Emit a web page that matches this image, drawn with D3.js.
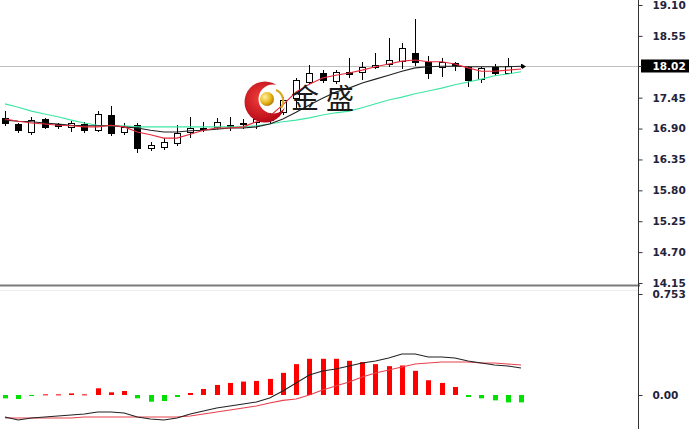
<!DOCTYPE html>
<html><head><meta charset="utf-8">
<script src="https://cdn.jsdelivr.net/npm/d3@7/dist/d3.min.js"></script>
<style>body{margin:0;background:#fff;overflow:hidden}svg{display:block}</style>
</head><body>
<svg id="c" width="689" height="429"></svg>
<script>
// ---- data ----
const open  = [17.09,16.98,16.84,17.07,16.98,16.92,16.98,16.88,17.15,16.84,16.96,16.55,16.58,16.64,16.84,16.90,16.93,16.94,16.98,17.01,17.05,17.20,17.45,17.73,17.89,17.74,17.91,17.90,17.99,18.05,18.10,18.25,18.09,17.99,18.07,18.00,17.78,18.00,17.89,18.02];
const high  = [17.22,17.00,17.11,17.09,17.00,17.04,17.02,17.21,17.30,17.00,17.00,16.66,16.73,16.96,17.11,17.02,17.09,17.11,17.07,17.11,17.18,17.46,17.80,18.03,17.94,17.95,18.15,18.09,18.25,18.51,18.42,18.85,18.19,18.16,18.09,18.01,18.00,18.05,18.16,18.05];
const low   = [16.97,16.84,16.80,16.91,16.91,16.85,16.83,16.86,16.79,16.80,16.48,16.52,16.54,16.61,16.75,16.86,16.91,16.87,16.91,16.91,17.00,17.16,17.28,17.72,17.73,17.72,17.82,17.78,17.98,18.02,17.98,18.04,17.80,17.83,17.94,17.66,17.73,17.85,17.89,18.00];
const close = [17.00,16.87,17.05,16.93,16.95,17.00,16.88,17.16,16.82,16.93,16.55,16.60,16.66,16.82,16.91,16.91,17.02,16.96,17.00,17.07,17.12,17.41,17.76,17.89,17.76,17.91,17.87,17.99,18.03,18.12,18.33,18.09,17.89,18.08,18.04,17.76,17.98,17.89,18.01,18.02];
const maRed   = [17.07,17.03,17.00,16.98,16.96,16.95,16.93,16.93,16.96,16.93,16.84,16.79,16.73,16.73,16.80,16.87,16.91,16.91,16.93,17.02,17.12,17.32,17.55,17.69,17.80,17.85,17.89,17.94,18.00,18.05,18.10,18.12,18.09,18.09,18.05,17.98,17.92,17.92,17.94,17.96];
const maBlack = [17.05,17.03,17.02,17.00,16.98,16.96,16.95,16.95,16.95,16.93,16.91,16.87,16.84,16.84,16.86,16.87,16.89,16.91,16.91,16.93,16.98,17.07,17.19,17.32,17.44,17.55,17.62,17.71,17.78,17.85,17.92,17.98,18.00,18.01,18.01,18.00,18.00,18.00,18.00,18.01];
const maGreen = [17.34,17.28,17.21,17.16,17.11,17.05,17.00,16.96,16.95,16.95,16.93,16.93,16.93,16.93,16.93,16.93,16.93,16.93,16.93,16.95,16.98,17.02,17.05,17.09,17.14,17.18,17.21,17.27,17.34,17.41,17.46,17.52,17.57,17.62,17.68,17.73,17.78,17.84,17.87,17.91];
const histo   = [-0.025,-0.03,-0.005,0.005,0.005,0.012,0.005,0.05,0.02,0.03,-0.025,-0.05,-0.045,-0.015,0.015,0.045,0.075,0.09,0.10,0.105,0.12,0.165,0.23,0.27,0.27,0.27,0.255,0.245,0.23,0.215,0.22,0.18,0.11,0.09,0.06,-0.015,-0.025,-0.04,-0.055,-0.055];
const macdLine   = [-0.164,-0.186,-0.172,-0.164,-0.157,-0.149,-0.142,-0.127,-0.127,-0.134,-0.164,-0.179,-0.186,-0.172,-0.142,-0.119,-0.097,-0.082,-0.067,-0.052,-0.022,0.030,0.090,0.149,0.179,0.194,0.216,0.239,0.254,0.276,0.306,0.306,0.283,0.283,0.276,0.254,0.239,0.224,0.216,0.201];
const signalLine = [-0.172,-0.172,-0.172,-0.172,-0.172,-0.172,-0.164,-0.164,-0.164,-0.164,-0.164,-0.164,-0.164,-0.164,-0.157,-0.142,-0.127,-0.112,-0.097,-0.082,-0.060,-0.040,-0.030,0.000,0.037,0.067,0.097,0.134,0.164,0.186,0.209,0.231,0.239,0.246,0.246,0.246,0.239,0.239,0.231,0.224];
const priceTicks = [19.10,18.55,17.45,16.90,16.35,15.80,15.25,14.70,14.15];
const lastPrice = 18.02;
const macdTicks = [0.753,0.00];
const macdTickLabels = ["0.753","0.00"];
const logoChars = ["金","盛"];

// ---- scales ----
const idx = open.map((_, i) => i);
const x  = d3.scaleLinear().domain([0, 39]).range([5, 521]);
const y  = d3.scaleLinear().domain([14.15, 19.10]).range([283, 5]);
const y2 = d3.scaleLinear().domain([0, 0.753]).range([395, 294]);
const AX = 638;

const svg = d3.select('#c');
const defs = svg.append('defs');
defs.append('clipPath').attr('id','cu').append('rect').attr('x',0).attr('y',0).attr('width',AX).attr('height',284);
defs.append('clipPath').attr('id','cl').append('rect').attr('x',0).attr('y',289).attr('width',AX).attr('height',140);

// ---- upper panel ----
const up = svg.append('g').attr('clip-path','url(#cu)');
up.append('line').attr('x1',0).attr('x2',AX).attr('y1',Math.round(y(lastPrice))+0.5).attr('y2',Math.round(y(lastPrice))+0.5)
  .attr('stroke','#c0c0c0').attr('stroke-width',1);

const cg = up.append('g');
idx.forEach(i => {
  const cx = Math.round(x(i));
  cg.append('line').attr('x1',cx+0.5).attr('x2',cx+0.5)
    .attr('y1',Math.round(y(high[i]))).attr('y2',Math.round(y(low[i]))+1)
    .attr('stroke','#000').attr('stroke-width',1);
  const t = Math.round(y(Math.max(open[i],close[i])));
  const b = Math.round(y(Math.min(open[i],close[i])));
  const bull = close[i] >= open[i];
  cg.append('rect').attr('x',cx-3+0.5).attr('y',t+0.5).attr('width',6).attr('height',Math.max(0,b-t))
    .attr('fill', bull ? '#fff' : '#000').attr('stroke','#000').attr('stroke-width',1);
});

const lineU = d3.line().x((d,i)=>x(i)).y(d=>y(d));
up.append('path').attr('d',lineU(maGreen)).attr('fill','none').attr('stroke','#3de6a2').attr('stroke-width',1.1);
up.append('path').attr('d',lineU(maBlack)).attr('fill','none').attr('stroke','#222').attr('stroke-width',1.1);
up.append('path').attr('d',lineU(maRed)).attr('fill','none').attr('stroke','#e8283a').attr('stroke-width',1.1);

// last price arrow tick
const lp = Math.round(y(lastPrice))+0.5;
up.append('path').attr('d',`M${x(39)+1},${lp-2.5}L${x(39)+5},${lp}L${x(39)+1},${lp+2.5}Z`).attr('fill','#000');

// ---- logo (watermark) ----
const logo = svg.append('g');
const rg = defs.append('radialGradient').attr('id','rg').attr('cx','40%').attr('cy','40%').attr('r','70%');
rg.append('stop').attr('offset','0%').attr('stop-color','#f0403a');
rg.append('stop').attr('offset','100%').attr('stop-color','#b00012');
const yg = defs.append('radialGradient').attr('id','yg').attr('cx','35%').attr('cy','35%').attr('r','70%');
yg.append('stop').attr('offset','0%').attr('stop-color','#fff2a0');
yg.append('stop').attr('offset','60%').attr('stop-color','#e8b820');
yg.append('stop').attr('offset','100%').attr('stop-color','#b07a00');
const mask = defs.append('mask').attr('id','cm');
mask.append('rect').attr('x',230).attr('y',70).attr('width',80).attr('height',70).attr('fill','#fff');
mask.append('circle').attr('cx',273).attr('cy',99).attr('r',14.5).attr('fill','#000');
logo.append('circle').attr('cx',265).attr('cy',102).attr('r',20.5).attr('fill','url(#rg)').attr('mask','url(#cm)');
logo.append('path').attr('d','M276,90 A12,12 0 0 1 281,108').attr('fill','none').attr('stroke','#d8a828').attr('stroke-width',2.2);
logo.append('circle').attr('cx',267).attr('cy',99).attr('r',7).attr('fill','url(#yg)');
logo.selectAll('text.lg').data(logoChars).enter().append('text').attr('class','lg')
  .attr('x',(d,i)=>291 + i*35).attr('y',109)
  .attr('font-family','"Noto Sans CJK SC","Noto Sans CJK JP",sans-serif')
  .attr('font-size',28).attr('fill','#1a1a1a').text(d=>d);

// ---- lower panel ----
const lo = svg.append('g').attr('clip-path','url(#cl)');
idx.forEach(i => {
  const cx = Math.round(x(i));
  const v = histo[i];
  const a = y2(0), b = y2(v);
  lo.append('rect').attr('x',cx-2).attr('y',Math.min(a,b)).attr('width',5).attr('height',Math.max(1,Math.abs(b-a)))
    .attr('fill', v >= 0 ? '#ff0000' : '#00e000');
});
const lineL = d3.line().x((d,i)=>x(i)).y(d=>y2(d));
lo.append('path').attr('d',lineL(signalLine)).attr('fill','none').attr('stroke','#e8404e').attr('stroke-width',1.1);
lo.append('path').attr('d',lineL(macdLine)).attr('fill','none').attr('stroke','#222').attr('stroke-width',1.1);

// ---- separators / axes ----
svg.append('line').attr('x1',0).attr('x2',AX+2).attr('y1',285.5).attr('y2',285.5).attr('stroke','#7a7a7a').attr('stroke-width',2);
svg.append('line').attr('x1',0).attr('x2',AX).attr('y1',290.5).attr('y2',290.5).attr('stroke','#ececec').attr('stroke-width',1);
svg.append('line').attr('x1',AX+0.5).attr('x2',AX+0.5).attr('y1',0).attr('y2',429).attr('stroke','#333').attr('stroke-width',1);

const font = '"DejaVu Sans",Verdana,sans-serif';
const ax1 = svg.append('g').attr('transform',`translate(${AX+0.5},0)`)
  .call(d3.axisRight(y).tickValues(priceTicks).tickSize(4).tickPadding(10).tickFormat(d3.format('.2f')));
const ax2 = svg.append('g').attr('transform',`translate(${AX+0.5},0)`)
  .call(d3.axisRight(y2).tickValues(macdTicks).tickSize(4).tickPadding(10).tickFormat((d,i)=>macdTickLabels[i]));
[ax1,ax2].forEach(a=>{
  a.select('.domain').remove();
  a.selectAll('line').attr('stroke','#333');
  a.selectAll('text').attr('font-family',font).attr('font-size',10.5).attr('font-weight','bold').attr('fill','#22223a');
});

// last price label
const lbl = svg.append('g');
lbl.append('rect').attr('x',AX+3).attr('y',lp-7).attr('width',48).attr('height',13).attr('fill','#000');
lbl.append('line').attr('x1',AX).attr('x2',AX+4).attr('y1',lp).attr('y2',lp).attr('stroke','#333');
lbl.append('text').attr('x',AX+14.5).attr('y',lp).attr('dy','0.36em').attr('font-family',font).attr('font-size',10.5)
  .attr('font-weight','bold').attr('fill','#fff').text(d3.format('.2f')(lastPrice));
</script>
</body></html>
